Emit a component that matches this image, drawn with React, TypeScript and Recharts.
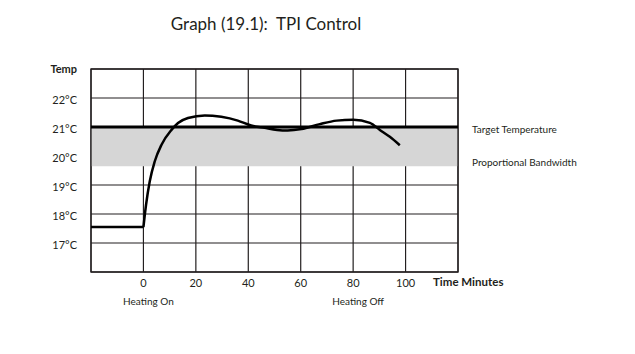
import {
  ComposedChart,
  Line,
  XAxis,
  YAxis,
  CartesianGrid,
  ReferenceArea,
  ReferenceLine,
} from 'recharts'

// axes
const xTicks = [0, 20, 40, 60, 80, 100]
const yTicks = [17, 18, 19, 20, 21, 22]
const xDomain: [number, number] = [-20, 120]
const yDomain: [number, number] = [16, 23]
const eventLabels: Record<number, string> = { 0: 'Heating On', 80: 'Heating Off' }

// thermostat settings
const targetTemp = 21
const bandFloor = 19.65

// room temperature before the heating comes on
const idleMinutes = [-20, 0]
const idleTemps = [17.55, 17.55]

// room temperature once the heating is on
const responseMinutes = [0, 1, 2.4, 4.3, 6.9, 10.7, 13.2, 17, 23.4, 29.7, 36, 41.1, 46.2, 51, 55, 60.3, 67.3, 73.7, 80, 86.4, 90.2, 94, 97.8]
const responseTemps = [17.55, 18.32, 19.12, 19.81, 20.39, 20.9, 21.14, 21.31, 21.4, 21.35, 21.22, 21.05, 20.97, 20.9, 20.88, 20.93, 21.1, 21.22, 21.25, 21.14, 20.9, 20.66, 20.37]

const idleData = idleMinutes.map((m, i) => ({ m, t: idleTemps[i] }))
const responseData = responseMinutes.map((m, i) => ({ m, t: responseTemps[i] }))

const W = 635
const H = 354
const LEFT = 91
const RIGHT = 458
const TOP = 69
const BOTTOM = 272
const FONT = 'Lato, "Open Sans", sans-serif'
const INK = '#231f20'

function XTick({ x, y, payload }: any) {
  const label = eventLabels[payload.value]
  return (
    <g>
      <text x={x} y={y + 15} textAnchor="middle" fontSize={11} fill={INK} fontFamily={FONT}>
        {payload.value}
      </text>
      {label && (
        <text x={x + 5} y={y + 33} textAnchor="middle" fontSize={10} fill={INK} fontFamily={FONT}>
          {label}
        </text>
      )}
    </g>
  )
}

function YTick({ x, y, payload }: any) {
  return (
    <text x={x} y={y + 6} textAnchor="end" fontSize={11} fill={INK} fontFamily={FONT}>
      {`${payload.value}°C`}
    </text>
  )
}

export default function App() {
  return (
    <div style={{ position: 'absolute', left: 0, top: 0, width: W, height: H, background: '#fff' }}>
      <ComposedChart
        width={W}
        height={H}
        margin={{ top: TOP, right: W - RIGHT, bottom: H - BOTTOM - 30, left: LEFT - 50 }}
      >
        <XAxis
          dataKey="m"
          type="number"
          domain={xDomain}
          ticks={xTicks}
          allowDataOverflow
          height={30}
          axisLine={false}
          tickLine={false}
          tickSize={0}
          tickMargin={0}
          tick={<XTick />}
          interval={0}
        />
        <YAxis
          type="number"
          domain={yDomain}
          ticks={yTicks}
          allowDataOverflow
          width={50}
          axisLine={false}
          tickLine={false}
          tickSize={0}
          tickMargin={14}
          tick={<YTick />}
          interval={0}
        />

        {/* proportional band below the target */}
        <ReferenceArea
          x1={xDomain[0]}
          x2={xDomain[1]}
          y1={bandFloor}
          y2={targetTemp}
          fill="#d6d6d6"
          fillOpacity={1}
          stroke="none"
          ifOverflow="visible"
        />

        <CartesianGrid stroke={INK} strokeWidth={1.2} />

        <ReferenceArea
          x1={xDomain[0]}
          x2={xDomain[1]}
          y1={yDomain[0]}
          y2={yDomain[1]}
          fill="none"
          stroke={INK}
          strokeWidth={1.3}
          ifOverflow="visible"
        />

        <ReferenceLine
          y={bandFloor}
          stroke="none"
          label={{ value: 'Proportional Bandwidth', position: 'right', offset: 14, fontSize: 10, fill: INK, fontFamily: FONT, dy: -4 }}
        />
        <ReferenceLine
          y={targetTemp}
          stroke="#000"
          strokeWidth={3}
          label={{ value: 'Target Temperature', position: 'right', offset: 14, fontSize: 10, fill: INK, fontFamily: FONT, dy: 2 }}
        />

        <Line data={idleData} dataKey="t" type="linear" stroke="#000" strokeWidth={2.5} dot={false} isAnimationActive={false} />
        <Line data={responseData} dataKey="t" type="monotone" stroke="#000" strokeWidth={2.5} dot={false} isAnimationActive={false} />

        <text x={266} y={30} textAnchor="middle" fontSize={17} fill={INK} fontFamily={FONT} style={{ whiteSpace: 'pre' }}>
          {'Graph (19.1):\u00a0 TPI Control'}
        </text>
        <text x={77} y={73} textAnchor="end" fontSize={11} fontWeight="bold" fill={INK} fontFamily={FONT}>
          Temp
        </text>
        <text x={433} y={286} textAnchor="start" fontSize={11.5} fontWeight="bold" fill={INK} fontFamily={FONT}>
          Time Minutes
        </text>
      </ComposedChart>
    </div>
  )
}
